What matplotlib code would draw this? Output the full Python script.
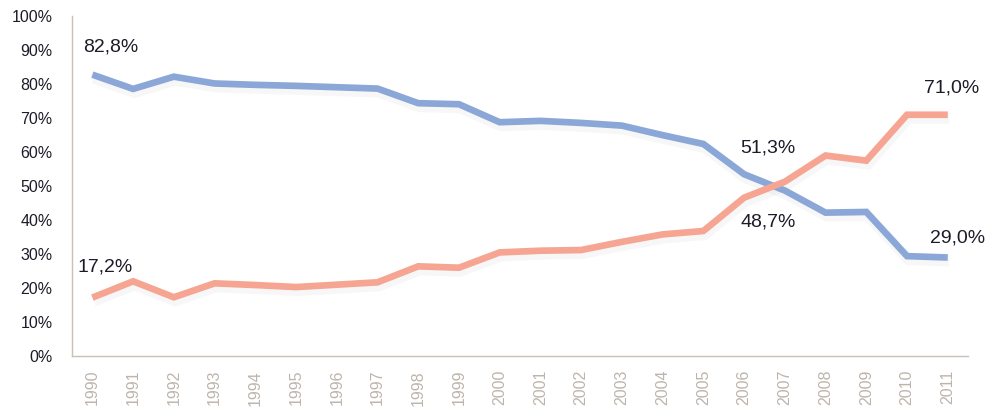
import matplotlib
matplotlib.use("Agg")
import matplotlib.pyplot as plt
import matplotlib.patheffects as pe

years = [str(y) for y in range(1990, 2012)]
blue_vals = [82.8, 78.6, 82.2, 80.2, 79.8, 79.5, 79.1, 78.7, 74.4, 74.1, 68.8,
             69.2, 68.6, 67.8, 65.0, 62.4, 53.5, 48.7, 42.2, 42.4, 29.4, 29.0]
salmon_vals = [17.2, 22.0, 17.3, 21.4, 20.9, 20.3, 21.0, 21.7, 26.4, 26.0, 30.5,
               31.0, 31.2, 33.6, 35.8, 36.8, 46.6, 51.3, 59.0, 57.5, 71.0, 71.0]
yticks = [0, 10, 20, 30, 40, 50, 60, 70, 80, 90, 100]
ytick_labels = [f"{v}%" for v in yticks]

# annotations: (series, year index, text, offset in points)
annotations = [
    ("blue", 0, "82,8%", (13, 20)),
    ("salmon", 0, "17,2%", (9, 22)),
    ("salmon", 17, "51,3%", (-12, 24)),
    ("blue", 17, "48,7%", (-12, -23)),
    ("salmon", 21, "71,0%", (3, 19)),
    ("blue", 21, "29,0%", (7, 14)),
]

BLUE = "#8ba7d7"
SALMON = "#f5a592"
SPINE = "#c9c0b6"
XLAB = "#bdb5ac"
TXT = "#1c1c28"

plt.rcParams['font.family'] = ['Liberation Sans', 'DejaVu Sans']

fig = plt.figure(figsize=(9.96, 4.15), dpi=100)
ax = fig.add_axes([0.0723, 0.142, 0.8997, 0.819])

x = list(range(len(years)))
shadow = [pe.SimpleLineShadow(offset=(1, -2.5), shadow_color="#999999", alpha=0.07, linewidth=8), pe.Normal()]
ax.plot(x, blue_vals, color=BLUE, lw=4.8, solid_joinstyle="miter", solid_capstyle="butt",
        path_effects=shadow, zorder=3)
ax.plot(x, salmon_vals, color=SALMON, lw=4.8, solid_joinstyle="miter", solid_capstyle="butt",
        path_effects=shadow, zorder=3)

series = {"blue": blue_vals, "salmon": salmon_vals}
for s, i, txt, off in annotations:
    ax.annotate(txt, xy=(x[i], series[s][i]), xytext=off, textcoords="offset points",
                ha="center", va="center", fontsize=14, color=TXT)

ax.set_xlim(-0.5, len(years) - 0.5)
ax.set_ylim(0, 100)
ax.set_yticks(yticks)
ax.set_yticklabels(ytick_labels, fontsize=11.5, color=TXT)
ax.set_xticks(x)
ax.set_xticklabels(years, rotation=90, fontsize=11.5, color=XLAB)
ax.tick_params(axis="y", length=0, pad=14)
ax.tick_params(axis="x", length=0, pad=10)

for side in ["top", "right"]:
    ax.spines[side].set_visible(False)
for side in ["left", "bottom"]:
    ax.spines[side].set_color(SPINE)
    ax.spines[side].set_linewidth(1.0)

fig.savefig("out.png", dpi=100)
